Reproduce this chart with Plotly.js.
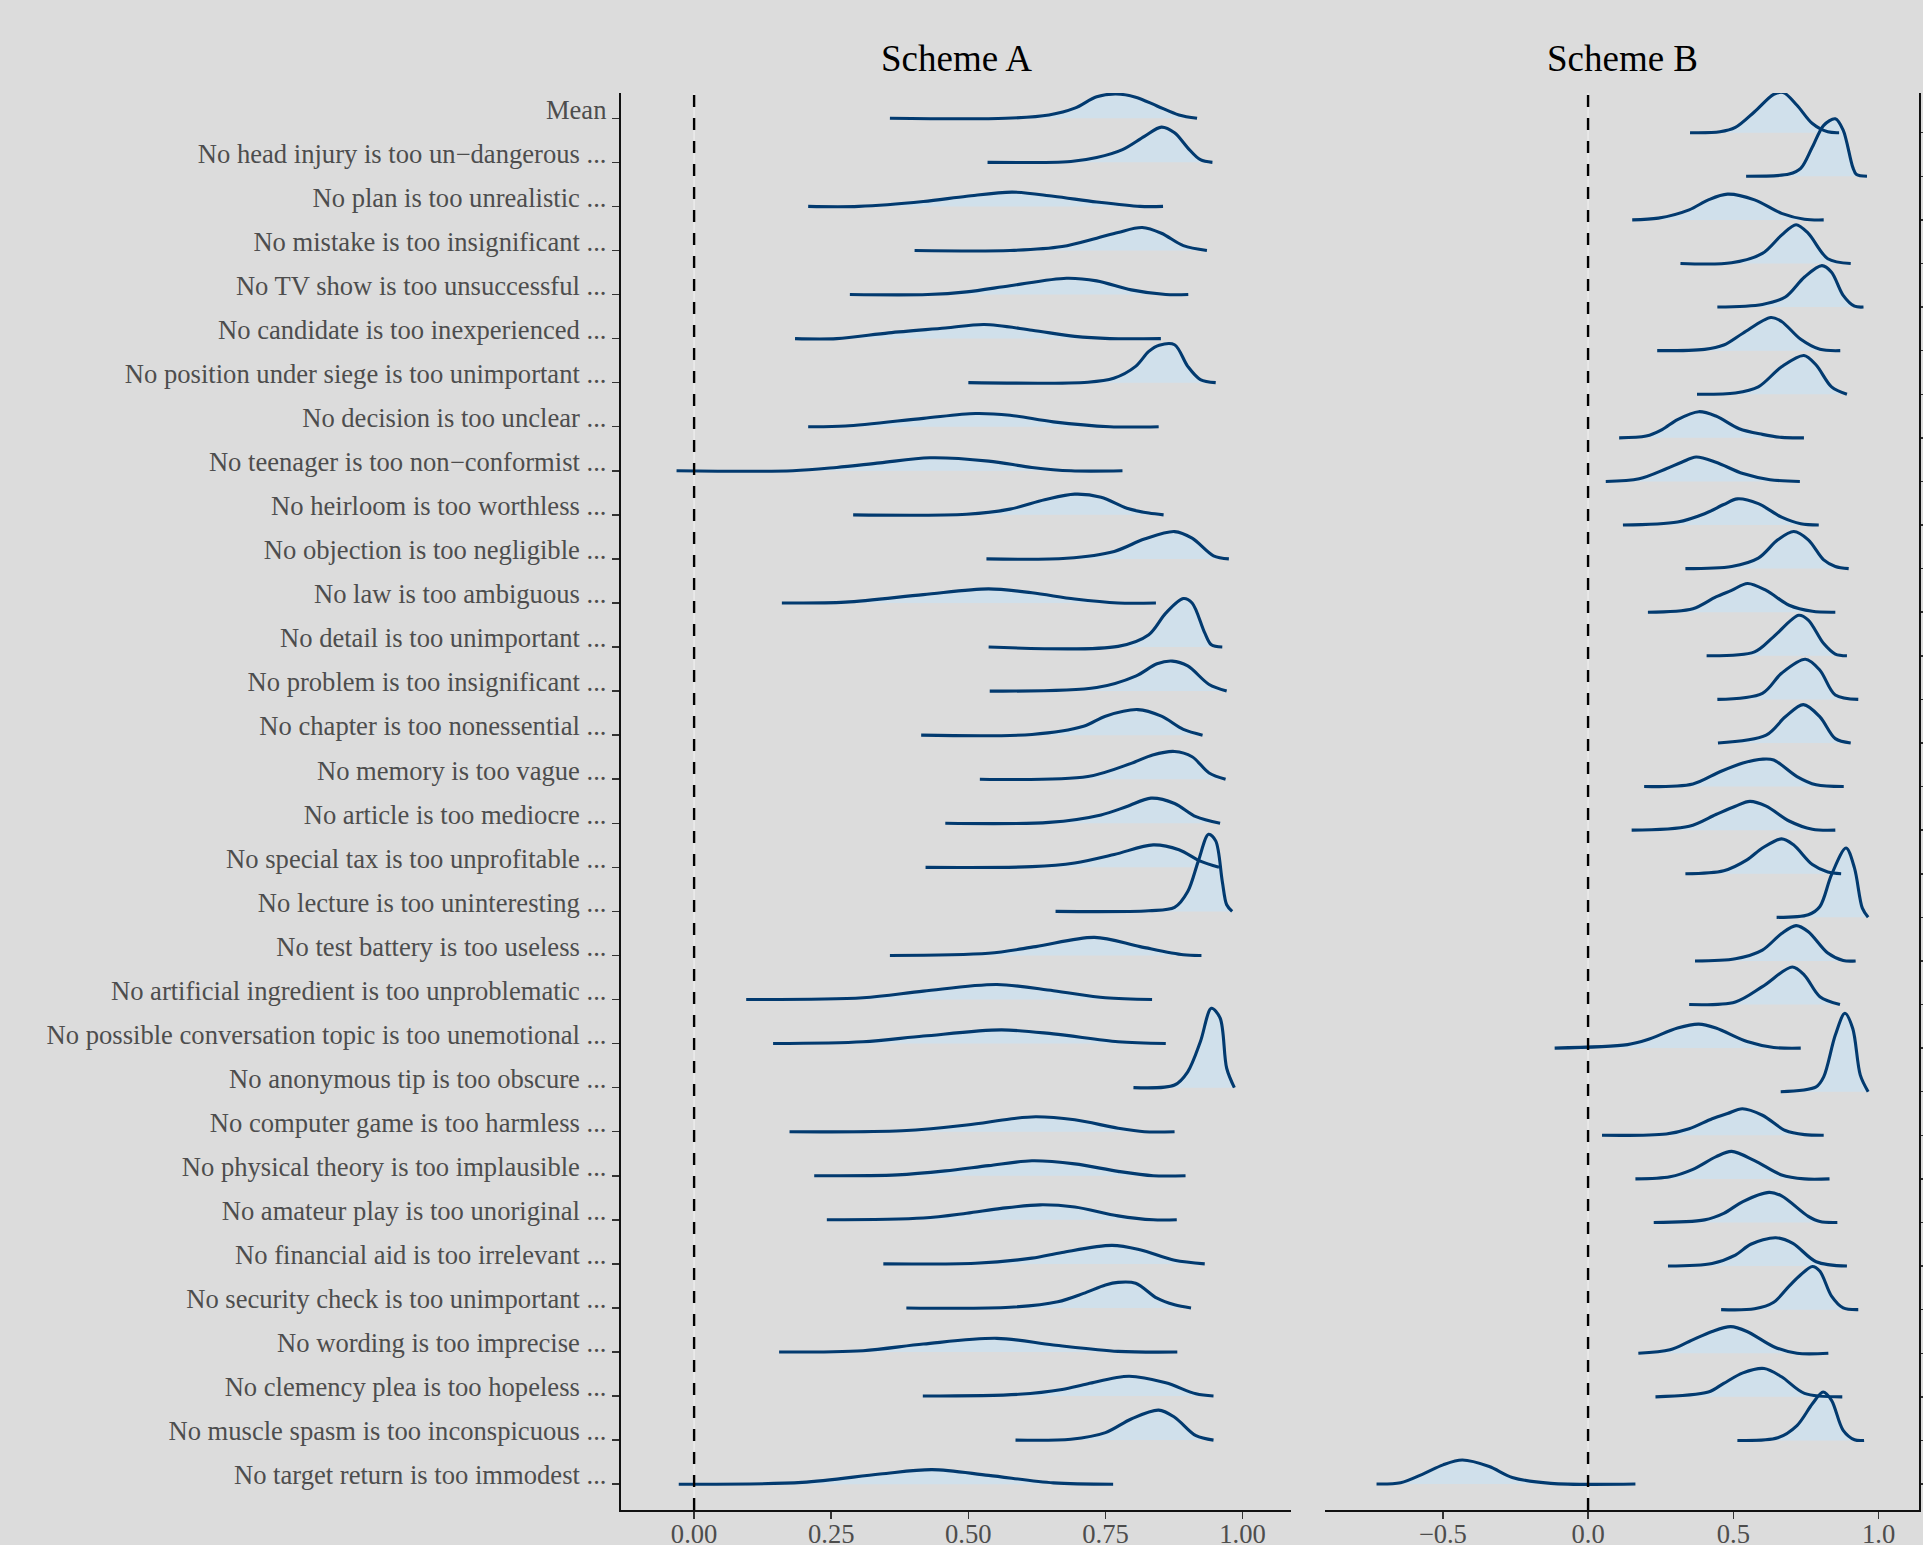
<!DOCTYPE html>
<html><head><meta charset="utf-8">
<script src="https://cdn.plot.ly/plotly-3.0.1.min.js"></script>
<style>html,body{margin:0;padding:0;background:#dcdcdc;} #chart{width:1923px;height:1545px;}</style>
</head><body><div id="chart"></div>
<script>
const rowLabels = [
  "Mean",
  "No head injury is too un\u2212dangerous ...",
  "No plan is too unrealistic ...",
  "No mistake is too insignificant ...",
  "No TV show is too unsuccessful ...",
  "No candidate is too inexperienced ...",
  "No position under siege is too unimportant ...",
  "No decision is too unclear ...",
  "No teenager is too non\u2212conformist ...",
  "No heirloom is too worthless ...",
  "No objection is too negligible ...",
  "No law is too ambiguous ...",
  "No detail is too unimportant ...",
  "No problem is too insignificant ...",
  "No chapter is too nonessential ...",
  "No memory is too vague ...",
  "No article is too mediocre ...",
  "No special tax is too unprofitable ...",
  "No lecture is too uninteresting ...",
  "No test battery is too useless ...",
  "No artificial ingredient is too unproblematic ...",
  "No possible conversation topic is too unemotional ...",
  "No anonymous tip is too obscure ...",
  "No computer game is too harmless ...",
  "No physical theory is too implausible ...",
  "No amateur play is too unoriginal ...",
  "No financial aid is too irrelevant ...",
  "No security check is too unimportant ...",
  "No wording is too imprecise ...",
  "No clemency plea is too hopeless ...",
  "No muscle spasm is too inconspicuous ...",
  "No target return is too immodest ..."
];

const panelTitles = ["Scheme A", "Scheme B"];
const ticksA = [0, 0.25, 0.5, 0.75, 1];
const ticksB = [-0.5, 0, 0.5, 1];

// Scheme A: density outline (x = effect, h = ridge height in row units)
const schemeA_x = [
  [0.357,0.568,0.647,0.694,0.734,0.769,0.805,0.844,0.884,0.917],
  [0.535,0.687,0.734,0.781,0.821,0.852,0.876,0.9,0.923,0.945],
  [0.208,0.30,0.418,0.497,0.58,0.655,0.734,0.813,0.855],
  [0.402,0.576,0.671,0.734,0.773,0.817,0.852,0.892,0.935],
  [0.284,0.426,0.497,0.576,0.679,0.734,0.797,0.86,0.901],
  [0.184,0.26,0.355,0.458,0.529,0.616,0.694,0.758,0.851],
  [0.5,0.718,0.765,0.805,0.829,0.848,0.876,0.9,0.923,0.951],
  [0.208,0.276,0.418,0.513,0.576,0.655,0.758,0.847],
  [-0.032,0.18,0.26,0.339,0.43,0.537,0.616,0.687,0.781],
  [0.29,0.497,0.576,0.639,0.694,0.742,0.789,0.829,0.856],
  [0.533,0.679,0.766,0.821,0.876,0.908,0.947,0.975],
  [0.16,0.276,0.418,0.537,0.616,0.694,0.773,0.842],
  [0.537,0.773,0.829,0.86,0.892,0.908,0.931,0.943,0.963],
  [0.539,0.734,0.805,0.844,0.872,0.9,0.939,0.971],
  [0.414,0.616,0.71,0.75,0.809,0.852,0.892,0.927],
  [0.521,0.718,0.797,0.836,0.876,0.908,0.939,0.969],
  [0.458,0.647,0.742,0.789,0.833,0.876,0.915,0.959],
  [0.422,0.616,0.694,0.766,0.837,0.884,0.923,0.957],
  [0.659,0.829,0.876,0.9,0.919,0.938,0.951,0.963,0.971,0.981],
  [0.357,0.537,0.623,0.73,0.813,0.892,0.925],
  [0.095,0.308,0.418,0.552,0.655,0.75,0.835],
  [0.144,0.308,0.418,0.56,0.655,0.773,0.86],
  [0.801,0.876,0.9,0.923,0.943,0.959,0.971,0.985],
  [0.174,0.379,0.497,0.576,0.623,0.694,0.773,0.821,0.876],
  [0.219,0.371,0.458,0.537,0.616,0.694,0.773,0.837,0.896],
  [0.242,0.418,0.497,0.56,0.631,0.694,0.773,0.837,0.88],
  [0.345,0.513,0.616,0.671,0.762,0.813,0.876,0.931],
  [0.387,0.576,0.663,0.71,0.75,0.773,0.805,0.844,0.876,0.906],
  [0.155,0.308,0.418,0.552,0.655,0.773,0.881],
  [0.417,0.592,0.671,0.718,0.793,0.86,0.915,0.947],
  [0.586,0.687,0.75,0.797,0.847,0.876,0.915,0.947],
  [-0.028,0.197,0.339,0.434,0.537,0.655,0.764]
];
const schemeA_h = [
  [0,0,0.076,0.23,0.49,0.55,0.48,0.28,0.076,0],
  [0,0.02,0.11,0.29,0.59,0.80,0.67,0.33,0.06,0],
  [0,0,0.11,0.23,0.325,0.23,0.10,0,0],
  [0,0,0.09,0.28,0.41,0.52,0.39,0.11,0],
  [0,0,0.06,0.2,0.37,0.31,0.106,0,0],
  [0,0,0.13,0.24,0.32,0.19,0.05,0,0],
  [0,0.01,0.1,0.37,0.71,0.85,0.86,0.37,0.07,0],
  [0,0.015,0.19,0.30,0.26,0.11,0,0],
  [0,0,0.076,0.18,0.295,0.22,0.076,0,0],
  [0,0.015,0.13,0.34,0.47,0.40,0.15,0.04,0],
  [0,0.015,0.17,0.45,0.62,0.47,0.07,0],
  [0,0.02,0.19,0.32,0.23,0.09,0,0],
  [0,0.015,0.28,0.77,1.10,1.0,0.32,0.05,0],
  [0,0.08,0.34,0.62,0.68,0.57,0.15,0],
  [0,0.015,0.2,0.43,0.58,0.43,0.13,0],
  [0,0.06,0.36,0.55,0.63,0.51,0.14,0],
  [0,0.02,0.19,0.38,0.57,0.45,0.15,0],
  [0,0.015,0.1,0.29,0.51,0.40,0.14,0],
  [0,0.015,0.09,0.45,1.13,1.75,1.6,0.68,0.15,0],
  [0,0.05,0.2,0.41,0.2,0.015,0],
  [0,0.04,0.19,0.34,0.2,0.04,0],
  [0,0.04,0.17,0.31,0.22,0.04,0],
  [0,0.06,0.36,1.04,1.80,1.58,0.44,0],
  [0,0.02,0.15,0.29,0.34,0.27,0.08,0,0],
  [0,0.02,0.11,0.23,0.34,0.27,0.10,0,0],
  [0,0.04,0.15,0.26,0.34,0.29,0.09,0,0],
  [0,0.015,0.13,0.26,0.42,0.32,0.08,0],
  [0,0.015,0.14,0.33,0.52,0.58,0.56,0.22,0.07,0],
  [0,0.03,0.18,0.31,0.16,0.015,0],
  [0,0.04,0.15,0.28,0.45,0.30,0.05,0],
  [0,0.02,0.17,0.48,0.68,0.52,0.1,0],
  [0,0.04,0.23,0.33,0.2,0.03,0]
];

// Scheme B
const schemeB_x = [
  [0.351,0.454,0.507,0.573,0.639,0.672,0.719,0.772,0.825,0.864],
  [0.544,0.692,0.732,0.772,0.811,0.851,0.878,0.911,0.924,0.96],
  [0.152,0.242,0.348,0.414,0.48,0.573,0.666,0.745,0.811],
  [0.318,0.494,0.6,0.666,0.716,0.758,0.825,0.904],
  [0.445,0.6,0.679,0.745,0.805,0.838,0.878,0.917,0.948],
  [0.238,0.401,0.467,0.533,0.629,0.666,0.732,0.798,0.868],
  [0.375,0.507,0.586,0.666,0.743,0.785,0.838,0.891],
  [0.107,0.2,0.255,0.308,0.381,0.44,0.52,0.6,0.666,0.743],
  [0.061,0.176,0.269,0.322,0.372,0.44,0.533,0.626,0.729],
  [0.12,0.308,0.401,0.467,0.514,0.586,0.666,0.732,0.794],
  [0.335,0.494,0.586,0.653,0.708,0.758,0.811,0.851,0.897],
  [0.206,0.361,0.44,0.494,0.549,0.613,0.692,0.772,0.851],
  [0.408,0.573,0.639,0.725,0.758,0.811,0.851,0.891],
  [0.445,0.6,0.666,0.748,0.798,0.851,0.93],
  [0.447,0.613,0.679,0.741,0.798,0.851,0.904],
  [0.193,0.361,0.454,0.533,0.602,0.639,0.719,0.785,0.88],
  [0.15,0.348,0.44,0.507,0.557,0.613,0.692,0.772,0.851],
  [0.335,0.467,0.547,0.6,0.666,0.706,0.772,0.825,0.871],
  [0.649,0.758,0.798,0.838,0.888,0.917,0.944,0.964],
  [0.368,0.507,0.6,0.666,0.716,0.758,0.825,0.878,0.921],
  [0.348,0.507,0.6,0.703,0.745,0.798,0.867],
  [-0.115,0.136,0.203,0.308,0.381,0.44,0.547,0.639,0.732],
  [0.663,0.785,0.811,0.851,0.884,0.911,0.937,0.964],
  [0.048,0.269,0.348,0.427,0.48,0.531,0.6,0.679,0.745,0.811],
  [0.163,0.282,0.361,0.441,0.494,0.573,0.666,0.745,0.831],
  [0.226,0.401,0.467,0.533,0.623,0.666,0.758,0.798,0.858],
  [0.275,0.427,0.507,0.56,0.646,0.705,0.785,0.891],
  [0.458,0.573,0.639,0.692,0.732,0.772,0.798,0.838,0.878,0.93],
  [0.173,0.282,0.348,0.427,0.491,0.547,0.639,0.719,0.827],
  [0.232,0.414,0.467,0.533,0.606,0.666,0.745,0.875],
  [0.514,0.653,0.719,0.772,0.809,0.838,0.878,0.917,0.95],
  [-0.728,-0.645,-0.565,-0.499,-0.433,-0.34,-0.261,-0.128,0.163]
];
const schemeB_h = [
  [0,0.02,0.12,0.48,0.88,0.92,0.63,0.21,0.02,0],
  [0,0.05,0.18,0.67,1.17,1.32,1.06,0.21,0.04,0],
  [0,0.04,0.23,0.46,0.59,0.46,0.15,0.015,0],
  [0,0.015,0.23,0.65,0.89,0.69,0.11,0],
  [0,0.06,0.23,0.69,0.95,0.80,0.27,0.02,0],
  [0,0.03,0.13,0.40,0.76,0.67,0.26,0.03,0],
  [0,0.03,0.17,0.63,0.89,0.67,0.17,0],
  [0,0.04,0.19,0.42,0.6,0.5,0.21,0.08,0.01,0],
  [0,0.06,0.29,0.44,0.56,0.44,0.18,0.04,0],
  [0,0.07,0.26,0.47,0.6,0.49,0.18,0.03,0],
  [0,0.05,0.24,0.66,0.85,0.66,0.2,0.05,0],
  [0,0.08,0.35,0.5,0.66,0.5,0.16,0.02,0],
  [0,0.09,0.44,0.93,0.82,0.28,0.04,0],
  [0,0.14,0.6,0.92,0.67,0.1,0],
  [0,0.18,0.6,0.88,0.6,0.1,0],
  [0,0.06,0.34,0.54,0.63,0.61,0.23,0.04,0],
  [0,0.09,0.36,0.55,0.66,0.55,0.21,0.02,0],
  [0,0.07,0.32,0.59,0.8,0.67,0.21,0.04,0],
  [0,0.06,0.25,0.98,1.59,1.13,0.21,0],
  [0,0.05,0.25,0.63,0.81,0.67,0.18,0.01,0],
  [0,0.06,0.41,0.86,0.67,0.18,0],
  [0,0.08,0.19,0.46,0.55,0.46,0.15,0.015,0],
  [0,0.11,0.34,1.3,1.8,1.45,0.38,0],
  [0,0.03,0.15,0.38,0.5,0.61,0.46,0.11,0.015,0],
  [0,0.05,0.22,0.51,0.63,0.42,0.09,0,0],
  [0,0.06,0.21,0.48,0.69,0.61,0.14,0.02,0],
  [0,0.06,0.25,0.5,0.65,0.52,0.1,0],
  [0,0.02,0.17,0.54,0.8,0.99,0.88,0.31,0.04,0],
  [0,0.08,0.27,0.5,0.61,0.5,0.15,0,0],
  [0,0.11,0.31,0.55,0.65,0.46,0.08,0],
  [0,0.06,0.34,0.84,1.11,0.92,0.23,0.015,0],
  [0,0.03,0.24,0.44,0.55,0.4,0.15,0.015,0]
];

const n = rowLabels.length;
const rowPos = rowLabels.map((_, i) => n - 1 - i);
const FILL = '#d0e0eb';
const LINE = '#023a6f';
const SMOOTH = 0.9;
const FONT = '"Liberation Serif", "Times New Roman", Times, serif';

const fills = [], lines = [];
function build(xs, hs, xa, ya) {
  for (let i = 0; i < n; i++) {
    const base = rowPos[i];
    const x = xs[i];
    const y = hs[i].map(h => base + h);
    fills.push({x: [x[0], x[x.length - 1]], y: [base, base], mode: 'lines',
      line: {width: 0}, xaxis: xa, yaxis: ya, hoverinfo: 'skip', showlegend: false});
    fills.push({x: x, y: y, mode: 'lines', line: {width: 0, shape: 'spline', smoothing: SMOOTH},
      fill: 'tonexty', fillcolor: FILL, xaxis: xa, yaxis: ya, hoverinfo: 'skip', showlegend: false});
    lines.push({x: x, y: y, mode: 'lines', line: {width: 3.1, color: LINE, shape: 'spline', smoothing: SMOOTH},
      xaxis: xa, yaxis: ya, hoverinfo: 'skip', showlegend: false});
  }
}
build(schemeA_x, schemeA_h, 'x', 'y');
build(schemeB_x, schemeB_h, 'x2', 'y2');

const W = 1923, H = 1545;
const yDom = [1 - 1510 / H, 1 - 93 / H];
const axisCommon = {
  showgrid: false, zeroline: false, showline: true, linecolor: '#111', linewidth: 1.8,
  ticks: 'outside', ticklen: 7, tickwidth: 1.5, tickcolor: '#333',
  tickfont: {family: FONT, size: 26.6, color: '#4d4d4d'}, fixedrange: true
};

function zeroLine(xr, yr) {
  return [
    {type: 'line', xref: xr, yref: yr + ' domain', x0: 0, x1: 0, y0: 0, y1: 1, layer: 'above',
      line: {color: '#ebebeb', width: 1.5}},
    {type: 'line', xref: xr, yref: yr + ' domain', x0: 0, x1: 0, y0: 0, y1: 1, layer: 'above',
      line: {color: '#000', width: 2.4, dash: '12px,11px'}}
  ];
}

const layout = {
  width: W, height: H,
  margin: {l: 0, r: 0, t: 0, b: 0},
  paper_bgcolor: '#dcdcdc', plot_bgcolor: '#dcdcdc',
  showlegend: false,
  font: {family: FONT, size: 26.6, color: '#4d4d4d'},
  xaxis: Object.assign({}, axisCommon, {domain: [620.6 / W, 1291.4 / W], range: [-0.134, 1.089],
    tickvals: ticksA, tickformat: '.2f', anchor: 'y', ticklabelstandoff: -8}),
  xaxis2: Object.assign({}, axisCommon, {domain: [1325.4 / W, 1919 / W], range: [-0.904, 1.139],
    tickvals: ticksB, tickformat: '.1f', anchor: 'y2', ticklabelstandoff: -8}),
  yaxis: Object.assign({}, axisCommon, {domain: yDom, range: [-0.586, 31.574],
    tickvals: rowPos, ticktext: rowLabels, anchor: 'x', ticklabelshift: -9}),
  yaxis2: Object.assign({}, axisCommon, {domain: yDom, range: [-0.596, 31.911],
    tickvals: rowPos, showticklabels: false, anchor: 'x2', side: 'right'}),
  shapes: zeroLine('x', 'y').concat(zeroLine('x2', 'y2')),
  annotations: [
    {text: panelTitles[0], xref: 'x domain', x: 0.5, yref: 'paper', y: 1 - 58 / H, yanchor: 'middle',
      showarrow: false, font: {family: FONT, size: 37, color: '#000'}},
    {text: panelTitles[1], xref: 'x2 domain', x: 0.5, yref: 'paper', y: 1 - 58 / H, yanchor: 'middle',
      showarrow: false, font: {family: FONT, size: 37, color: '#000'}}
  ]
};

Plotly.newPlot('chart', fills.concat(lines), layout, {staticPlot: true, displayModeBar: false});
</script>
</body></html>
